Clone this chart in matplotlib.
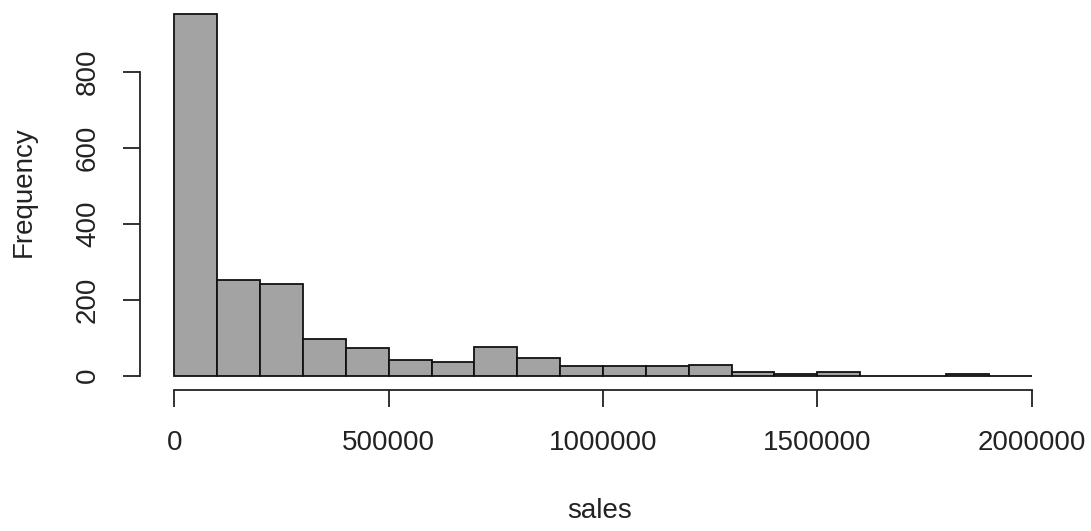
import matplotlib
matplotlib.use("Agg")
import matplotlib.pyplot as plt

# histogram of sales, bins of 100000 from 0 to 2000000
bin_edges = [i * 100000 for i in range(21)]
counts = [951, 251, 242, 95, 73, 40, 37, 76, 45, 26,
          26, 26, 27, 10, 5, 10, 0, 0, 5, 0]
x_ticks = [0, 500000, 1000000, 1500000, 2000000]
y_ticks = [0, 200, 400, 600, 800]

plt.rcParams['font.family'] = ['Liberation Sans', 'DejaVu Sans']
W, H = 1091, 531
fig = plt.figure(figsize=(W / 100, H / 100), dpi=100)
ax = fig.add_axes([140 / W, 1 - 390 / H, (1066 - 140) / W, 390 / H])

lefts = bin_edges[:-1]
widths = [b - a for a, b in zip(bin_edges[:-1], bin_edges[1:])]
ax.bar(lefts, counts, width=widths, align='edge', color='#a3a3a3',
       edgecolor='#111111', linewidth=1.3)

ax.set_xlim(-80000, 2080000)
ax.set_ylim(-38, 989)

for s in ['top', 'right']:
    ax.spines[s].set_visible(False)
ax.spines['bottom'].set_bounds(0, 2000000)
ax.spines['left'].set_bounds(0, 800)
for s in ['bottom', 'left']:
    ax.spines[s].set_linewidth(1.3)
    ax.spines[s].set_color('#222222')

ax.set_xticks(x_ticks)
ax.set_xticklabels([str(v) for v in x_ticks])
ax.set_yticks(y_ticks)
ax.set_yticklabels([str(v) for v in y_ticks], rotation=90, va='center')
ax.tick_params(length=12, width=1.3, color='#222222', labelsize=20,
               labelcolor='#222222')
ax.tick_params(axis='x', pad=17)
ax.tick_params(axis='y', pad=16)

fig.text(600 / W, 1 - 511 / H, 'sales', ha='center', va='center',
         fontsize=20, color='#222222')
fig.text(24 / W, 1 - 192 / H, 'Frequency', ha='center', va='center',
         rotation=90, fontsize=20, color='#222222')

fig.savefig('out.png', dpi=100)
